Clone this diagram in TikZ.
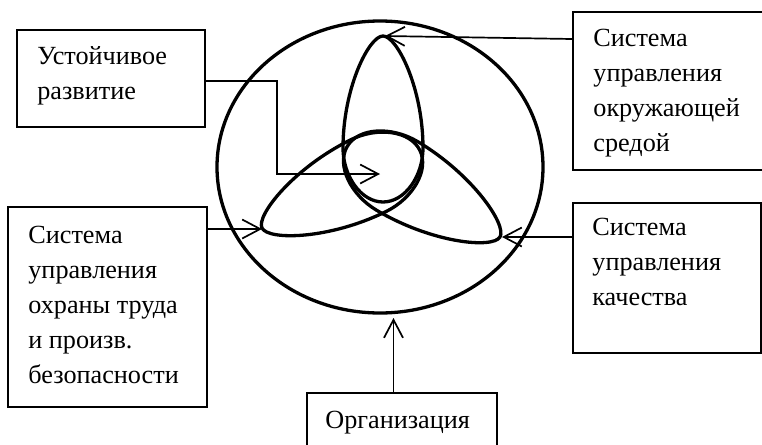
\documentclass[tikz,border=0pt]{standalone}
\usepackage{fontspec}
\setmainfont{Liberation Serif}
\newfontfamily\boxfont{Liberation Serif}
\usetikzlibrary{arrows.meta,shapes.geometric}
\begin{document}
\begin{tikzpicture}[x=0.5pt,y=-0.5pt,
  box/.style={draw, line width=1pt, inner sep=0pt, anchor=north west},
  txt/.style={inner sep=0pt, anchor=base west, align=left, font=\boxfont\fontsize{13.1}{17.5}\selectfont},
  arr/.style={line width=0.85pt, -{Straight Barb[length=9pt,width=9.5pt]}},
  lobe/.style={line width=1.65pt, line join=round},
  ring/.style={draw, ellipse, line width=1.65pt, inner sep=0pt}
]
\useasboundingbox (0,0) rectangle (762,445);
\clip (0,0) rectangle (762,445);

% outer ring
\node[ring, minimum width=163pt, minimum height=146pt] (circ) at (380,167) {};

% three lobes: tip position / rotation / width scale / length scale
\foreach \tx/\ty/\r/\w/\s in {383/36/0/1/1, 262/228/116.2/1/1.06, 500/237/-120.7/1/1.07}{
  \begin{scope}[shift={(\tx,\ty)},rotate=\r,xscale=\w,yscale=\s]
    \draw[lobe] (0,0) .. controls (14,0) and (40,52) .. (40,112)
                      .. controls (40,140) and (22,166) .. (0,166)
                      .. controls (-22,166) and (-40,140) .. (-40,112)
                      .. controls (-40,52) and (-14,0) .. (0,0) -- cycle;
  \end{scope}
}

% boxes
\node[box, minimum width=94pt, minimum height=48.5pt] (b1) at (16,29) {};
\node[box, minimum width=114pt, minimum height=79pt] (b2) at (572,11) {};
\node[box, minimum width=99.5pt, minimum height=100pt] (b3) at (7,206) {};
\node[box, minimum width=94pt, minimum height=75pt] (b4) at (572,202) {};
\node[box, minimum width=95pt, minimum height=40pt] (b5) at (306,392) {};

% texts (anchored at the baseline of the last line)
\node[txt] (t1) at (37,99) {Устойчивое\\развитие};
\node[txt] (t2) at (593,151) {Система\\управления\\окружающей\\средой};
\node[txt] (t3) at (28,383) {Система\\управления\\охраны труда\\и произв.\\безопасности};
\node[txt] (t4) at (592,305) {Система\\управления\\качества};
\node[txt] (t5) at (325,428) {Организация};

% arrow end points
\coordinate (eT) at (385,36);
\coordinate (eL) at (262,229);
\coordinate (eR) at (502,237);
\coordinate (eC) at (380,174);
\coordinate (eB) at (393.5,318);

% connectors
\draw[arr] ([yshift=-1.25pt]b1.east) -- ++(71,0) |- (eC);
\draw[arr] ([yshift=-14pt]b2.north west) -- (eT);
\draw[arr] ([yshift=-11.5pt]b3.north east) -- (eL);
\draw[arr] ([yshift=-17.5pt]b4.north west) -- (eR);
\draw[arr] (eB |- b5.north) -- (eB);
\end{tikzpicture}
\end{document}
